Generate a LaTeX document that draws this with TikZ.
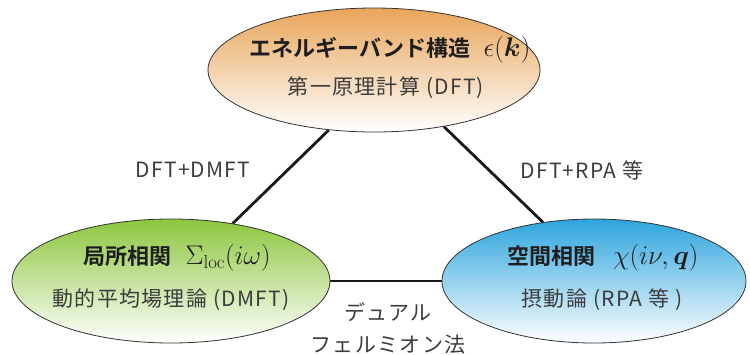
\RequirePackage{fix-cm}
\documentclass[tikz,border=0pt]{standalone}
\usepackage{fontspec}
\usepackage{bm}
\usetikzlibrary{shapes.geometric,backgrounds}
\newfontfamily\jp[LetterSpace=6]{Noto Sans CJK JP}
\newfontfamily\jpb{Noto Sans CJK JP Bold}
\definecolor{orangeT}{HTML}{E9A55A}
\definecolor{greenT}{HTML}{8CC63E}
\definecolor{blueT}{HTML}{2DA5DE}
\definecolor{subgray}{HTML}{3C3C3C}
\definecolor{maingray}{HTML}{1E1E1E}
\newcommand{\bigmath}[1]{{\fontsize{27}{27}\selectfont$#1$}}
\begin{document}
\begin{tikzpicture}[x=1pt,y=-1pt,
  blob/.style={ellipse, draw=black!80, line width=0.8pt, inner sep=0pt},
  head/.style={font=\jpb\fontsize{22}{26}\selectfont, text=maingray, inner sep=0pt},
  sub/.style={font=\jp\fontsize{21}{26}\selectfont, text=subgray, inner sep=0pt},
  link/.style={line width=2.8pt, draw=black!90},
  lbl/.style={font=\jp\fontsize{21}{32}\selectfont, text=subgray, align=center, inner sep=0pt}]
\useasboundingbox (0,0) rectangle (750,354);
\node[blob, minimum width=332pt, minimum height=124pt, top color=orangeT, bottom color=white] (top) at (374,70) {};
\node[blob, minimum width=318pt, minimum height=124pt, top color=greenT, bottom color=white] (left) at (171,281) {};
\node[blob, minimum width=304pt, minimum height=124pt, top color=blueT, bottom color=white] (right) at (594,281) {};
\node[head] (th) at (390,50) {エネルギーバンド構造\hspace{0.6em}\bigmath{\epsilon(\bm{k})}};
\node[sub] (ts) at (386,88) {第一原理計算 (DFT)};
\node[head] (lh) at (177,258) {局所相関\hspace{0.65em}\bigmath{\Sigma_{\mathrm{loc}}(i\omega)}};
\node[sub] (ls) at (171,300) {動的平均場理論 (DMFT)};
\node[head] (rh) at (603,258) {空間相関\hspace{0.8em}\bigmath{\chi(i\nu,\bm{q})}};
\node[sub] (rs) at (602,300) {摂動論 (RPA 等 )};
\begin{scope}[on background layer]
\draw[link] (top.-127.5) -- (left.43);
\draw[link] (top.-39.4) -- (right.131.8);
\draw[link] (left.east) -- (right.west);
\end{scope}
\node[lbl] (l1) at (193,170) {DFT+DMFT};
\node[lbl] (l2) at (582,170) {DFT+RPA 等};
\node[lbl] (l3) at (388,328) {デュアル\\フェルミオン法};
\end{tikzpicture}
\end{document}
